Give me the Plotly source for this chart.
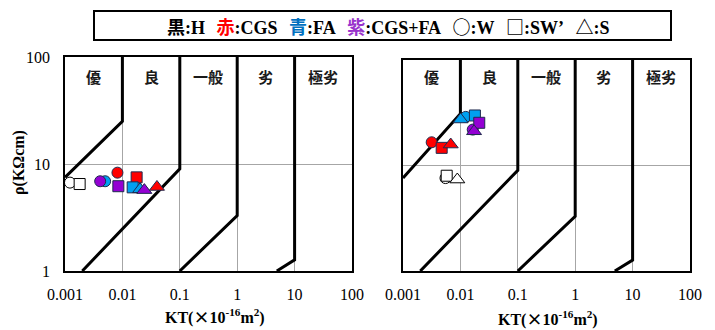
import math
import plotly.graph_objects as go

# ---- data -------------------------------------------------------------
materials = ["H", "CGS", "FA", "CGS+FA"]
marker_colors = ["#FFFFFF", "#FF0000", "#00A0F0", "#9400D3"]
edge_colors = ["#000000", "#1F2A4F", "#1F2A4F", "#1F2A4F"]

# left panel (index order follows `materials`; None = not plotted)
left_W_kt = [0.00122, 0.0082, 0.0050, 0.0041]
left_W_rho = [6.7, 8.3, 6.9, 6.9]
left_SW_kt = [0.0018, 0.0177, 0.0151, 0.0085]
left_SW_rho = [6.5, 7.5, 6.05, 6.2]
left_S_kt = [None, 0.040, 0.0203, 0.0241]
left_S_rho = [None, 6.1, 5.8, 5.7]

# right panel
right_W_kt = [0.0055, 0.00316, 0.0124, 0.0164]
right_W_rho = [7.6, 16.6, 28.9, 21.9]
right_SW_kt = [0.00577, 0.00472, 0.0179, 0.0213]
right_SW_rho = [8.0, 14.7, 29.8, 25.4]
right_S_kt = [0.00883, 0.00678, 0.0101, 0.0173]
right_S_rho = [7.36, 15.8, 27.3, 21.1]

# quality class boundaries (kT, rho)
bound1_left_kt, bound1_left_rho = [0.001, 0.01, 0.01], [7.5, 25, 100]
bound1_right_kt, bound1_right_rho = [0.001, 0.01, 0.01], [7.6, 31, 100]
bound2_kt, bound2_rho = [0.002, 0.1, 0.1], [1, 9, 100]
bound3_kt, bound3_rho = [0.1, 1, 1], [1, 3.3, 100]
bound4_kt, bound4_rho = [4.9, 10, 10], [1, 1.27, 100]

zone_labels = ["優", "良", "一般", "劣", "極劣"]
zone_centers = [0.00316, 0.0316, 0.316, 3.16, 31.6]

x_tickvals = [0.001, 0.01, 0.1, 1, 10, 100]
x_ticktext = ["0.001", "0.01", "0.1", "1", "10", "100"]
y_tickvals = [1, 10, 100]
y_ticktext = ["1", "10", "100"]

# ---- figure -----------------------------------------------------------
W, H = 715, 330
SERIF = "Liberation Serif, Times New Roman, serif"
CJK = "Noto Sans CJK JP, sans-serif"
MIXED = "Liberation Serif, Noto Sans CJK JP, serif"

fig = go.Figure()

panels = [
    dict(xa="x", ya="y",
         data=[(left_W_kt, left_W_rho, "circle"),
               (left_SW_kt, left_SW_rho, "square"),
               (left_S_kt, left_S_rho, "triangle-up")],
         bounds=[(bound1_left_kt, bound1_left_rho), (bound2_kt, bound2_rho),
                 (bound3_kt, bound3_rho), (bound4_kt, bound4_rho)]),
    dict(xa="x2", ya="y2",
         data=[(right_W_kt, right_W_rho, "circle"),
               (right_SW_kt, right_SW_rho, "square"),
               (right_S_kt, right_S_rho, "triangle-up")],
         bounds=[(bound1_right_kt, bound1_right_rho), (bound2_kt, bound2_rho),
                 (bound3_kt, bound3_rho), (bound4_kt, bound4_rho)]),
]

for p in panels:
    for bx, by in p["bounds"]:
        fig.add_trace(go.Scatter(x=bx, y=by, mode="lines", xaxis=p["xa"], yaxis=p["ya"],
                                 line=dict(color="black", width=3), showlegend=False,
                                 hoverinfo="skip", cliponaxis=True))
    for i, mat in enumerate(materials):
        for kt, rho, sym in p["data"]:
            if kt[i] is None:
                continue
            size = 11 if sym != "triangle-up" else 13
            fig.add_trace(go.Scatter(
                x=[kt[i]], y=[rho[i]], mode="markers", xaxis=p["xa"], yaxis=p["ya"],
                name=mat, showlegend=False, cliponaxis=False,
                marker=dict(symbol=sym, size=size, color=marker_colors[i],
                            line=dict(color=edge_colors[i], width=1))))

axis_common = dict(type="log", showgrid=True, gridcolor="#A6A6A6", gridwidth=1,
                   showline=True, mirror=True, linecolor="black", linewidth=1.5,
                   zeroline=False, ticks="outside", tickcolor="rgba(0,0,0,0)",
                   automargin=False,
                   tickfont=dict(family=SERIF, size=16, color="black"))

fig.update_layout(
    width=W, height=H, margin=dict(l=0, r=0, t=0, b=0),
    paper_bgcolor="white", plot_bgcolor="white", showlegend=False,
    xaxis=dict(axis_common, domain=[65 / W, 352 / W], range=[-3, 2], anchor="y",
               tickvals=x_tickvals, ticktext=x_ticktext, ticklen=8),
    yaxis=dict(axis_common, domain=[(H - 271) / H, (H - 57) / H], range=[0, 2], anchor="x",
               tickvals=y_tickvals, ticktext=y_ticktext, ticklen=10),
    xaxis2=dict(axis_common, domain=[403 / W, 690 / W], range=[-3, 2], anchor="y2",
                tickvals=x_tickvals, ticktext=x_ticktext, ticklen=8),
    yaxis2=dict(axis_common, domain=[(H - 271) / H, (H - 60) / H], range=[0, 2], anchor="x2",
                tickvals=y_tickvals, showticklabels=False, ticks=""),
)

annotations = []
# zone names along the top of each panel
for xr in ("x", "x2"):
    for lab, xc in zip(zone_labels, zone_centers):
        annotations.append(dict(x=math.log10(xc), xref=xr, y=(H - 77) / H, yref="paper",
                                text="<b>" + lab + "</b>", showarrow=False,
                                xanchor="center", yanchor="middle",
                                font=dict(family=CJK, size=15, color="#1a1a1a")))


def cjk(s):
    return "<span style='font-family:Noto Sans CJK JP'>" + s + "</span>"


# axis titles
kt_title = "<b>KT(" + cjk("×") + "10<sup>-16</sup>m<sup>2</sup>)</b>"
annotations.append(dict(x=215 / W, y=(H - 316) / H, xref="paper", yref="paper", text=kt_title,
                        showarrow=False, xanchor="center", yanchor="middle",
                        font=dict(family=SERIF, size=16, color="black")))
annotations.append(dict(x=548 / W, y=(H - 318) / H, xref="paper", yref="paper", text=kt_title,
                        showarrow=False, xanchor="center", yanchor="middle",
                        font=dict(family=SERIF, size=16, color="black")))
annotations.append(dict(x=19 / W, y=(H - 163) / H, xref="paper", yref="paper",
                        text="<b>ρ(KΩcm)</b>", textangle=-90, showarrow=False,
                        xanchor="center", yanchor="middle",
                        font=dict(family=SERIF, size=16, color="black")))

# key box
sp = "&nbsp;&nbsp;<span style='font-size:10px'>&nbsp;</span>"
key_text = ("<b>黒:H" + sp + "<span style='color:#FF0000'>赤</span>:CGS" + sp +
            "<span style='color:#0070C0'>青</span>:FA" + sp +
            "<span style='color:#9933CC'>紫</span>:CGS+FA" + sp +
            cjk("○") + ":W" + sp + cjk("□") + ":SW’" + sp + cjk("△") + ":S</b>")
annotations.append(dict(x=388 / W, y=(H - 25.5) / H, xref="paper", yref="paper", text=key_text,
                        showarrow=False, xanchor="center", yanchor="middle",
                        font=dict(family=MIXED, size=18, color="black")))
fig.update_layout(annotations=annotations)
fig.add_shape(type="rect", xref="paper", yref="paper",
              x0=94 / W, x1=671 / W, y0=(H - 40) / H, y1=(H - 11) / H,
              line=dict(color="black", width=2), fillcolor="rgba(0,0,0,0)")

fig.write_html("out.html")
